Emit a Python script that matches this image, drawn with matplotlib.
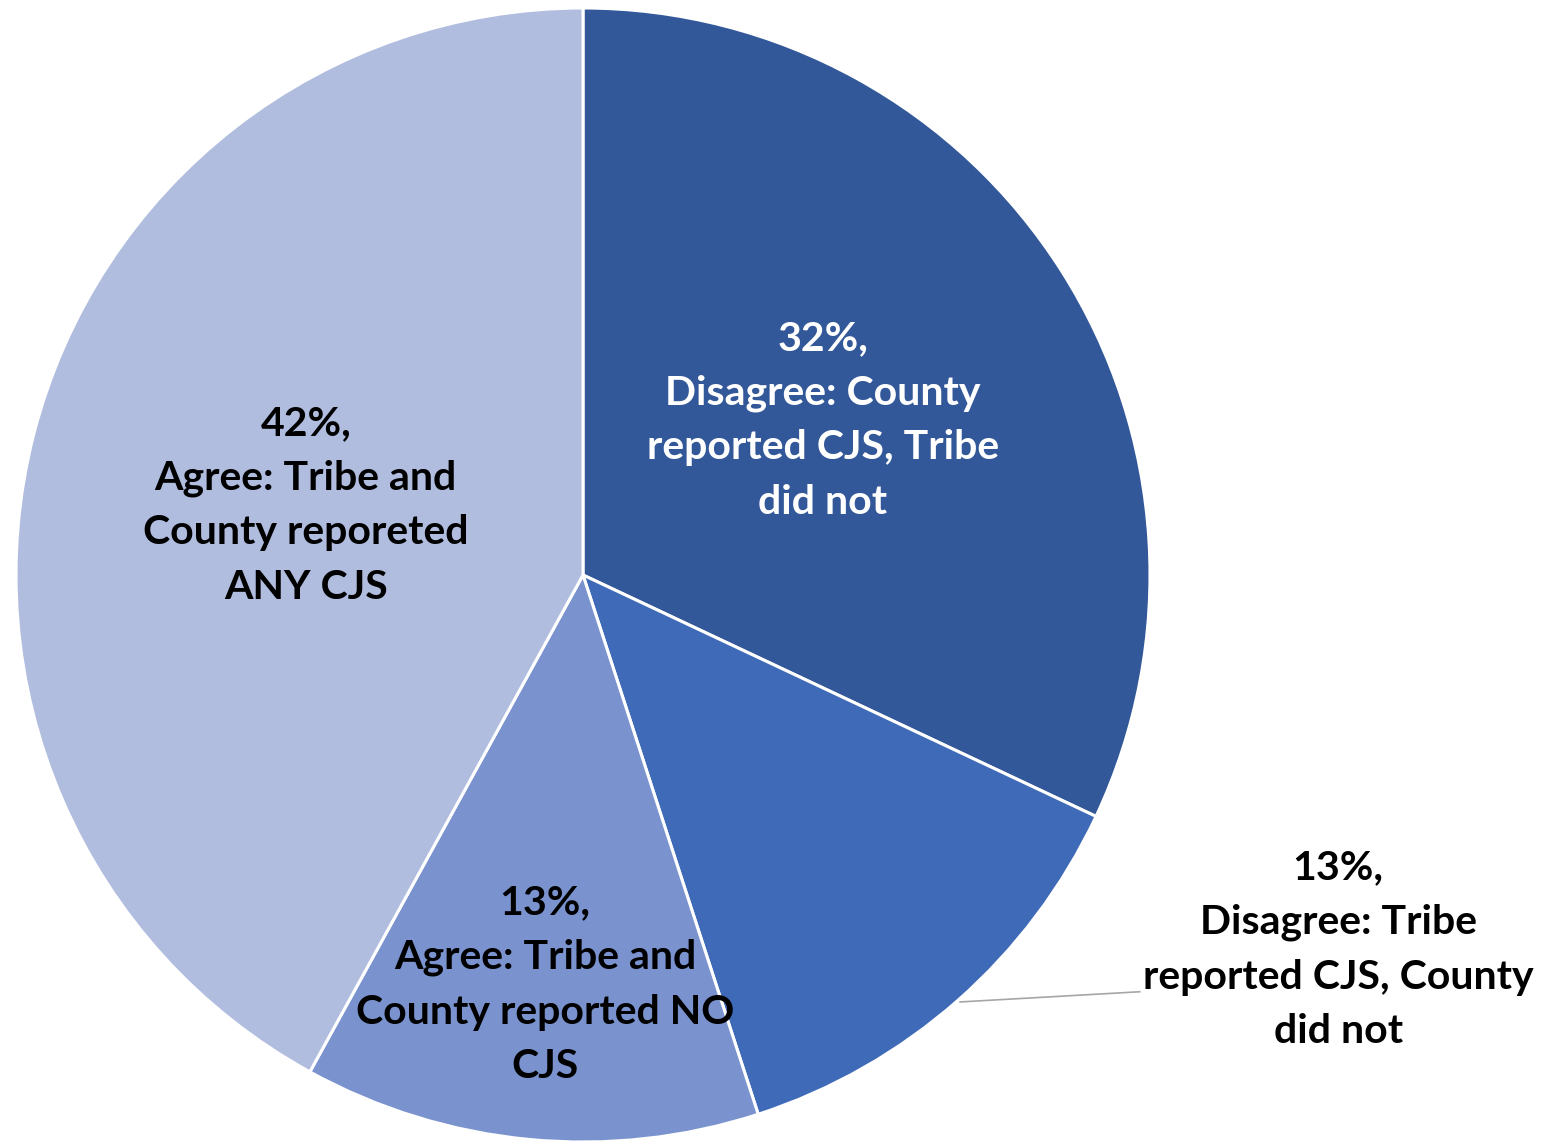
import numpy as np
import matplotlib.pyplot as plt

# slice values (percent), clockwise from 12 o'clock
shares = [32, 13, 13, 42]
labels = [
    "32%,\nDisagree: County\nreported CJS, Tribe\ndid not",
    "13%,\nDisagree: Tribe\nreported CJS, County\ndid not",
    "13%,\nAgree: Tribe and\nCounty reported NO\nCJS",
    "42%,\nAgree: Tribe and\nCounty reporeted\nANY CJS",
]
colors = ["#335899", "#3F6AB7", "#7A93CF", "#B1BDDF"]
text_colors = ["white", "black", "black", "black"]

plt.rcParams["font.family"] = ["Lato", "DejaVu Sans"]

fig = plt.figure(figsize=(15.47, 11.42), dpi=100)
W, H = 1547, 1142
cx, cy, r = 583, 575, 567
ax = fig.add_axes([(cx - r) / W, (H - cy - r) / H, 2 * r / W, 2 * r / H])

wedges, _ = ax.pie(
    shares,
    colors=colors,
    startangle=90,
    counterclock=False,
    wedgeprops=dict(edgecolor="white", linewidth=2.2),
)
ax.set_xlim(-1, 1)
ax.set_ylim(-1, 1)
ax.set_aspect("equal")
ax.axis("off")

# label positions in data units (pie radius = 1)
label_pos = [(0.423, 0.273), (1.332, -0.661), (-0.067, -0.723), (-0.489, 0.123)]
for txt, (x, y), c in zip(labels, label_pos, text_colors):
    ax.text(x, y, txt, ha="center", va="center", color=c, fontsize=29.5,
            fontweight="bold", linespacing=1.58, clip_on=False)

# leader line for the outside label
ax.plot([0.665, 0.982], [-0.753, -0.735], color="#A6A6A6", linewidth=1.2,
        clip_on=False)

fig.savefig("out.png", dpi=100)
